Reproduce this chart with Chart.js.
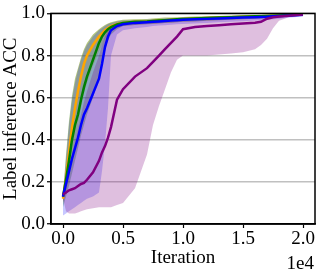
<!DOCTYPE html>
<html><head><meta charset="utf-8">
<script src="https://cdn.jsdelivr.net/npm/chart.js@4/dist/chart.umd.min.js"></script>
<style>html,body{margin:0;padding:0;background:#fff}#wrap{width:318px;height:276px}</style>
</head><body><div id="wrap"><canvas id="c" width="318" height="276"></canvas></div>
<script>
const iterations = [0,250,500,750,1000,1250,1500,1750,2000,2500,3000,3250,3500,3750,4000,4500,5000,6000,7000,7500,8000,8500,9000,9500,10000,11000,12000,13000,14000,15000,16000,16500,17000,17500,18000,19000,20000];
const orangeMean  = [0.12,0.22,0.34,0.46,0.55,0.63,0.70,0.76,0.80,0.85,0.89,0.905,0.92,0.93,0.94,0.95,0.955,0.96,0.962,0.964,0.966,0.968,0.97,0.972,0.974,0.976,0.978,0.98,0.982,0.984,0.986,0.987,0.988,0.989,0.99,0.993,0.995];
const orangeUpper = [0.13,0.32,0.48,0.60,0.69,0.74,0.79,0.83,0.86,0.90,0.925,0.935,0.945,0.952,0.958,0.965,0.97,0.972,0.974,0.976,0.978,0.98,0.981,0.982,0.983,0.985,0.987,0.988,0.99,0.991,0.992,0.993,0.994,0.995,0.996,0.998,1.0];
const orangeLower = [0.10,0.15,0.22,0.32,0.40,0.47,0.55,0.62,0.67,0.75,0.82,0.85,0.88,0.90,0.915,0.93,0.94,0.945,0.948,0.95,0.952,0.954,0.956,0.958,0.96,0.962,0.965,0.967,0.97,0.972,0.975,0.976,0.977,0.978,0.98,0.985,0.99];
const greenMean   = [0.13,0.21,0.30,0.40,0.47,0.52,0.59,0.65,0.70,0.78,0.86,0.89,0.91,0.925,0.935,0.948,0.955,0.96,0.962,0.964,0.966,0.968,0.97,0.972,0.974,0.976,0.978,0.98,0.982,0.984,0.986,0.987,0.988,0.989,0.99,0.993,0.995];
const greenUpper  = [0.14,0.33,0.49,0.61,0.69,0.74,0.79,0.83,0.86,0.90,0.925,0.935,0.945,0.952,0.958,0.965,0.97,0.972,0.974,0.976,0.978,0.98,0.981,0.982,0.983,0.985,0.987,0.988,0.99,0.991,0.992,0.993,0.994,0.995,0.996,0.998,1.0];
const greenLower  = [0.08,0.13,0.18,0.24,0.30,0.36,0.42,0.47,0.52,0.60,0.70,0.76,0.83,0.87,0.90,0.925,0.94,0.945,0.948,0.95,0.952,0.954,0.956,0.958,0.96,0.962,0.965,0.967,0.97,0.972,0.975,0.976,0.977,0.978,0.98,0.985,0.99];
const blueMean    = [0.13,0.19,0.25,0.31,0.36,0.41,0.47,0.52,0.55,0.62,0.69,0.76,0.84,0.89,0.92,0.94,0.948,0.955,0.958,0.96,0.962,0.964,0.966,0.968,0.97,0.972,0.974,0.976,0.978,0.98,0.982,0.983,0.984,0.986,0.988,0.99,0.993];
const blueUpper   = [0.14,0.31,0.47,0.59,0.67,0.73,0.78,0.82,0.85,0.89,0.92,0.93,0.94,0.95,0.955,0.962,0.966,0.968,0.97,0.972,0.974,0.976,0.977,0.978,0.98,0.982,0.984,0.986,0.988,0.99,0.991,0.992,0.993,0.994,0.995,0.997,0.999];
const blueLower   = [0.04,0.05,0.06,0.07,0.08,0.09,0.10,0.11,0.12,0.13,0.15,0.25,0.38,0.55,0.80,0.90,0.92,0.93,0.935,0.94,0.942,0.944,0.946,0.948,0.95,0.952,0.955,0.958,0.96,0.963,0.966,0.968,0.97,0.972,0.975,0.98,0.985];
const purpleMean  = [0.14,0.15,0.16,0.165,0.17,0.18,0.19,0.195,0.21,0.245,0.30,0.34,0.37,0.41,0.46,0.59,0.64,0.70,0.74,0.77,0.80,0.83,0.86,0.89,0.925,0.935,0.94,0.944,0.948,0.952,0.956,0.96,0.975,0.982,0.985,0.99,0.995];
const purpleUpper = [0.15,0.20,0.26,0.33,0.40,0.46,0.52,0.58,0.63,0.72,0.80,0.85,0.89,0.92,0.935,0.945,0.95,0.955,0.958,0.96,0.962,0.964,0.966,0.968,0.97,0.972,0.974,0.976,0.978,0.98,0.982,0.983,0.985,0.988,0.99,0.995,1.0];
const purpleLower = [0.12,0.06,0.05,0.05,0.05,0.055,0.06,0.065,0.07,0.075,0.08,0.08,0.08,0.08,0.08,0.09,0.10,0.17,0.33,0.47,0.56,0.64,0.72,0.78,0.80,0.80,0.80,0.805,0.81,0.815,0.83,0.85,0.88,0.93,0.965,0.985,0.995];
const xTickValues = [0,5000,10000,15000,20000];
const yTickValues = [0,0.2,0.4,0.6,0.8,1.0];

const pts = arr => arr.map((v,i)=>({x:iterations[i], y:v}));
const FAMILY = '"Liberation Serif", "Times New Roman", Times, serif';
const FONT = {family:FAMILY, size:19};
const series = [
  {mean:orangeMean, up:orangeUpper, lo:orangeLower, color:'#FFA500', fill:'rgba(255,165,0,0.3)', order:4},
  {mean:greenMean, up:greenUpper, lo:greenLower, color:'#008000', fill:'rgba(0,128,0,0.3)', order:3},
  {mean:blueMean, up:blueUpper, lo:blueLower, color:'#0000FF', fill:'rgba(0,0,255,0.22)', order:2},
  {mean:purpleMean, up:purpleUpper, lo:purpleLower, color:'#800080', fill:'rgba(128,0,128,0.25)', order:1}
];
const datasets = [];
series.forEach((s,k)=>{
  datasets.push({data:pts(s.up), borderWidth:0, pointRadius:0, fill:'+1', backgroundColor:s.fill, order:20-k, tension:0});
  datasets.push({data:pts(s.lo), borderWidth:0, pointRadius:0, fill:false, order:20-k, tension:0});
});
series.forEach(s=>{
  datasets.push({data:pts(s.mean), borderColor:s.color, borderWidth:2.5, pointRadius:0, fill:false, order:s.order, tension:0});
});

const framePlugin = {
  id:'frame',
  afterDraw(chart){
    const {ctx, chartArea:a} = chart;
    ctx.save();
    ctx.strokeStyle='#000'; ctx.lineWidth=1.5;
    ctx.strokeRect(a.left, a.top, a.right-a.left, a.bottom-a.top);
    ctx.fillStyle='#000';
    ctx.font = '19px ' + FAMILY;
    ctx.textAlign='right'; ctx.textBaseline='middle';
    ctx.fillText('1e4', 314, 264);
    ctx.restore();
  }
};

new Chart(document.getElementById('c'), {
  type:'line',
  data:{datasets},
  plugins:[framePlugin],
  options:{
    responsive:false, animation:false,
    layout:{padding:{top:9, right:3, left:0, bottom:0}},
    plugins:{legend:{display:false}, tooltip:{enabled:false}},
    scales:{
      x:{type:'linear', min:-1000, max:21000,
        afterBuildTicks(s){ s.ticks = xTickValues.map(v=>({value:v})); },
        afterFit(s){ s.height = 52; },
        ticks:{font:FONT, color:'#000', padding:0, maxRotation:0, callback:v=>(v/10000).toFixed(1)},
        grid:{drawOnChartArea:false, tickColor:'#000', tickLength:4, tickWidth:1.2},
        border:{display:true, color:'#000', width:1.5},
        title:{display:true, text:'Iteration', font:FONT, color:'#000', padding:{top:0,bottom:7}}
      },
      y:{type:'linear', min:0, max:1,
        afterBuildTicks(s){ s.ticks = yTickValues.map(v=>({value:v})); },
        afterFit(s){ s.width = 51; },
        ticks:{font:FONT, color:'#000', padding:2, callback:v=>v.toFixed(1)},
        grid:{color:'#c0c0c0', lineWidth:1.5, tickColor:'#000', tickLength:4, tickWidth:1.2},
        border:{display:true, color:'#000', width:1.5},
        title:{display:true, text:'Label inference ACC', font:FONT, color:'#000', padding:{top:0,bottom:0}}
      }
    }
  }
});
</script></body></html>
